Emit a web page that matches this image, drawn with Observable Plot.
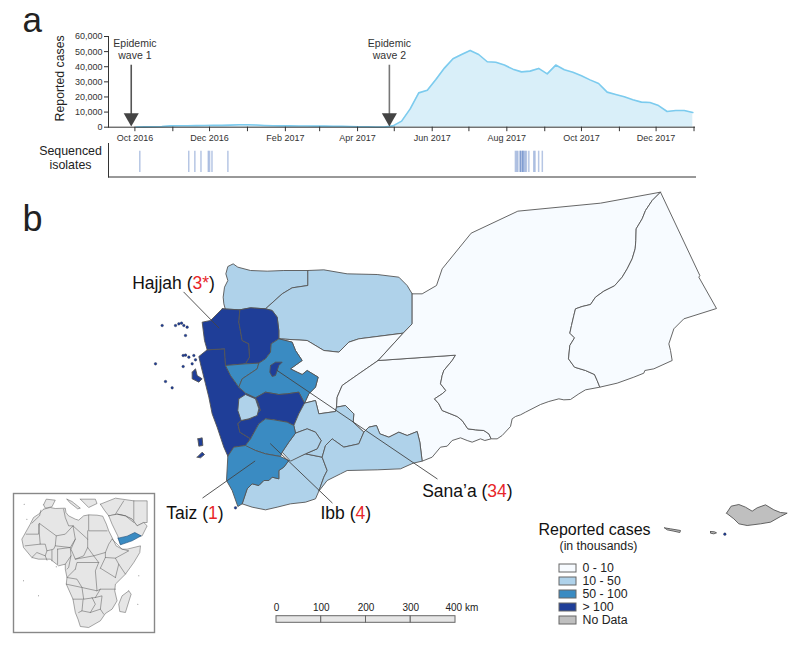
<!DOCTYPE html>
<html><head><meta charset="utf-8">
<script src="https://cdn.jsdelivr.net/npm/d3@7"></script>
<script src="https://cdn.jsdelivr.net/npm/@observablehq/plot@0.6"></script>
<style>
html,body{margin:0;padding:0;background:#fff}
#page{position:relative;width:800px;height:645px;overflow:hidden;font-family:"Liberation Sans",Arial,sans-serif}
#page svg{position:absolute;background:transparent;overflow:visible}
</style></head><body><div id="page"></div>
<script>
// ---- panel a: weekly reported cases ----
const wave1Cases=[100,200,300,500,900,1000,1000,1050,1100,1200,1200,1350,1600,1600,1450,1150,950,900,850,800,750,700,700,650,600,450,300,250,150,100];
const wave2Cases=[900,4000,12100,22700,24500,31600,39100,45300,48100,50800,48100,43300,43000,41100,38400,36600,37100,38900,35300,41100,38000,36400,34000,31300,28900,23200,21600,20100,18100,16600,16300,14300,10400,11000,11000,9700];
const firstWeek="2016-10-02", lastWeek="2018-01-01";
const isolateDates=["2016-10-05","2016-11-14","2016-11-19","2016-11-24","2016-11-30","2016-12-01","2016-12-03","2016-12-16",
"2017-08-08","2017-08-09","2017-08-10","2017-08-12","2017-08-12","2017-08-13","2017-08-14","2017-08-14","2017-08-15","2017-08-16","2017-08-17","2017-08-19","2017-08-23","2017-08-24","2017-08-27","2017-08-30"];
const waveDates=["2016-09-28","2017-04-27"];
const waveLabelDates=["2016-10-01","2017-04-27"];
const waveLabels=["Epidemic\nwave 1","Epidemic\nwave 2"];
const yTicks=[0,10000,20000,30000,40000,50000,60000];
// ---- panel b: traced map geometry (map units) ----
const catNames=["0 - 10","10 - 50","50 - 100","> 100","No Data"];
const catColors=["#f7fbff","#afd2ea","#3a8bc2","#1f3e98","#bfbfbf"];
const shabHad=[[915,314],[905,330],[880,360],[875,375],[870,400],[886,420],[875,430],[852,445],[865,460],[875,480],[920,498],[935,510],[952,535],[975,538],[1000,540],[1015,550],[1022,565]];
const hadMah=[[1530,-175],[1505,-150],[1485,-120],[1475,-95],[1457,-65],[1456,-30],[1454,-5],[1445,25],[1430,55],[1415,80],[1392,106],[1360,122],[1335,140],[1320,162],[1295,168],[1275,175],[1270,195],[1263,225],[1258,248],[1272,262],[1258,285],[1254,325],[1272,350],[1305,360],[1332,372],[1340,390],[1348,410]];
const abyanTop=[[640,545],[655,530],[678,525],[688,550],[715,560],[745,545],[770,555],[800,543],[808,575],[815,632]];
const saadah=[[225,178],[220,160],[218,140],[222,110],[232,90],[226,70],[232,48],[248,40],[262,50],[300,60],[350,62],[400,60],[472,60],[472,105],[425,112],[395,130],[345,175],[300,172],[268,178],[215,175]];
const jawf=[[472,60],[520,58],[590,70],[680,72],[745,80],[770,105],[785,130],[785,220],[758,248],[625,265],[595,275],[565,305],[520,300],[470,270],[385,265],[385,240],[380,200],[365,180],[345,175],[395,130],[425,112],[472,105]];
const marib=[[385,265],[470,270],[520,300],[565,305],[595,275],[625,265],[758,248],[683,330],[625,370],[575,405],[560,440],[558,470],[555,483],[505,490],[495,450],[462,458],[475,430],[495,410],[503,380],[470,360],[455,372],[440,365],[420,355],[455,330],[435,300],[425,275]];
const shabwah=[[683,330],...shabHad,[1003,570],[990,565],[965,575],[950,570],[930,562],[905,570],[890,587],[870,590],[845,620],[815,632],...[...abyanTop].reverse(),[608,515],[610,490],[585,465],[558,470],[560,440],[575,405],[625,370]];
const hadramawt=[[785,130],[815,130],[858,105],[875,55],[962,-52],[1102,-118],[1350,-142],...hadMah,[1305,418],[1285,430],[1260,447],[1240,448],[1225,445],[1195,453],[1170,462],[1125,485],[1110,493],[1095,498],[1085,505],[1080,528],[1055,555],[1040,565],...[...shabHad].reverse(),[683,330],[758,248],[785,220]];
const mahra=[...hadMah,[1400,398],[1450,380],[1480,368],[1483,360],[1510,355],[1565,330],[1560,300],[1555,280],[1570,235],[1600,205],[1698,174],[1645,80],[1648,75]];
const hajjah=[[215,175],[268,178],[265,215],[275,270],[295,280],[297,320],[285,340],[225,345],[222,295],[170,298],[162,270],[155,215],[180,210]];
const amran=[[268,178],[300,172],[345,175],[365,180],[380,200],[385,240],[385,265],[362,280],[360,305],[345,325],[325,338],[285,340],[297,320],[295,280],[275,270],[265,215]];
const hudaydah=[[170,298],[222,295],[225,345],[240,375],[265,410],[285,428],[315,442],[322,455],[330,480],[300,505],[272,510],[262,520],[268,545],[300,565],[285,585],[250,590],[232,617],[220,590],[200,530],[185,490],[175,440],[165,400],[150,340],[145,318]];
const mahwit=[[225,345],[285,340],[325,338],[320,355],[275,385],[265,410],[240,375]];
const sanaa=[[362,280],[385,265],[425,275],[435,300],[455,330],[420,355],[440,365],[455,372],[470,360],[503,380],[495,410],[475,430],[462,458],[445,425],[410,430],[385,432],[345,425],[315,442],[285,428],[265,410],[275,385],[320,355],[325,338],[345,325],[360,305]];
const sanaaCity=[[360,345],[375,335],[395,335],[385,345],[375,375],[365,378],[358,365]];
const dhamar=[[315,442],[345,425],[385,432],[410,430],[445,425],[462,458],[445,490],[430,525],[410,515],[370,508],[345,505],[325,520],[300,565],[268,545],[262,520],[272,510],[300,505],[330,480],[322,455]];
const raymah=[[265,445],[285,432],[315,445],[325,475],[320,495],[295,505],[272,510],[262,480]];
const ibb=[[300,565],[325,520],[345,505],[370,508],[410,515],[430,525],[435,548],[415,575],[395,605],[390,618],[345,610],[315,600],[290,590],[285,585]];
const taiz=[[232,617],[250,590],[285,585],[315,600],[345,610],[390,618],[415,630],[400,650],[385,660],[385,685],[365,680],[355,690],[340,690],[325,705],[305,700],[290,715],[275,760],[262,768],[245,720],[228,690]];
const lahj=[[275,760],[290,715],[305,700],[325,705],[340,690],[355,690],[365,680],[385,685],[385,660],[400,650],[415,630],[465,610],[515,620],[530,660],[520,680],[505,722],[495,745],[465,755],[420,760],[380,770],[345,778],[305,770]];
const dhale=[[435,548],[470,535],[495,545],[512,570],[500,595],[465,610],[420,632],[395,605],[415,575]];
const bayda=[[462,458],[495,450],[505,490],[555,483],[558,470],[585,465],[610,490],[608,515],[640,545],[625,580],[580,590],[545,565],[525,585],[515,620],[465,610],[500,595],[512,570],[495,545],[470,535],[435,548],[430,525],[445,490]];
const abyan=[...abyanTop,[788,638],[750,655],[680,658],[590,660],[570,670],[530,690],[505,722],[520,680],[530,660],[515,620],[525,585],[545,565],[580,590],[625,580]];
const kamaran=[[125,365],[135,355],[140,375],[155,385],[145,395],[125,385]];
const zuqar=[[142,565],[155,562],[157,585],[145,587]];
const hanish=[[140,620],[155,605],[162,612],[150,622]];
const socotra=[[1728,788],[1742,767],[1765,762],[1785,770],[1805,782],[1820,772],[1845,763],[1870,778],[1890,786],[1910,788],[1890,798],[1860,815],[1830,820],[1790,825],[1765,820],[1750,805]];
const abdKuri=[[1542,832],[1560,835],[1590,840],[1588,846],[1570,842],[1550,838]];
const samha=[[1680,843],[1692,844],[1698,847],[1690,850],[1680,848]];
const islets=[[75,225],[85,220],[93,218],[100,225],[110,230],[35,225],[105,255],[98,315],[105,314],[115,320],[130,315],[135,328],[15,340],[125,340],[98,348],[45,393],[65,412],[255,772],[1723,851]];
const regionTable=[
["saadah",1,saadah],["jawf",1,jawf],["marib",0,marib],["shabwah",0,shabwah],["hadramawt",0,hadramawt],["mahra",0,mahra],
["hudaydah",3,hudaydah],["hajjah",3,hajjah],["amran",3,amran],["mahwit",2,mahwit],["sanaa",2,sanaa],["sanaaCity",3,sanaaCity],["dhamar",3,dhamar],["raymah",1,raymah],
["lahj",1,lahj],["bayda",1,bayda],["dhale",1,dhale],["abyan",1,abyan],["ibb",2,ibb],["taiz",2,taiz],
["kamaran",3,kamaran],["zuqar",3,zuqar],["hanish",3,hanish],["socotra",4,socotra],["abdKuri",4,abdKuri],["samha",4,samha]];
const leaders=[[[100,125],[205,232]],[[380,360],[860,685]],[[157,742],[313,632]],[[360,580],[545,757]]];
const placeNames=["Hajjah","Sana’a","Taiz","Ibb"];
const placeCounts=["3*","34","1","4"];
const placeAt=[[-55,98],[815,722],[47,789],[510,789]];
// ---- inset: Africa (inset units) ----
const africa=[[130,85],[150,80],[165,83],[195,82],[197,95],[205,105],[225,115],[235,118],[250,105],[265,102],[290,103],[307,106],[318,130],[325,150],[340,180],[347,195],[365,205],[380,205],[420,195],[418,215],[400,245],[375,280],[345,310],[343,330],[350,360],[335,385],[315,398],[300,420],[265,440],[240,437],[233,415],[225,395],[218,355],[198,310],[200,290],[195,265],[195,250],[175,255],[150,235],[115,235],[95,230],[70,200],[65,175],[90,130],[100,110],[115,100]];
const madagascar=[[385,330],[392,340],[375,395],[358,392],[355,370],[365,345]];
const arabia=[[325,105],[350,100],[375,105],[395,115],[410,135],[430,125],[440,135],[425,165],[400,170],[360,190],[352,165],[335,130]];
const levant=[[300,70],[345,52],[400,60],[440,60],[440,125],[430,125],[410,135],[395,115],[375,105],[350,100],[325,105],[312,88]];
const spain=[[130,72],[138,55],[165,58],[155,78],[135,82]];
const italy=[[200,55],[215,62],[240,82],[232,84],[208,65]];
const balkan=[[240,55],[285,55],[290,68],[265,80],[255,70]];
const yemenInset=[[353,172],[360,192],[395,180],[422,165],[403,155],[380,166]];
const borders=[
[[122,88],[118,105],[95,127]],[[78,160],[115,160],[118,128]],[[115,130],[120,190],[75,195]],[[118,128],[168,165],[195,160],[218,135]],
[[190,85],[195,110],[205,135],[218,135]],[[168,165],[165,195],[210,200],[225,175],[218,135],[262,175],[262,200],[250,225],[225,235],[212,205],[225,175]],
[[265,103],[265,150],[320,150]],[[262,150],[262,175]],[[262,200],[280,225],[315,215],[325,190],[335,175]],
[[120,190],[135,190],[140,210],[160,205],[165,195]],[[95,230],[110,215],[135,225],[140,210]],[[135,225],[140,238]],[[155,240],[155,208]],[[172,250],[172,205]],
[[172,205],[210,200],[212,225],[195,250]],[[212,225],[205,260],[200,265]],[[225,235],[280,225],[295,245],[230,245],[225,265]],
[[225,265],[205,285],[200,290],[230,295],[245,320],[290,330],[285,270],[295,245]],[[198,310],[245,320],[250,355],[218,355]],[[250,355],[285,350],[300,325],[290,330]],
[[248,358],[245,390],[235,395]],[[275,350],[285,370],[270,395],[245,390]],[[285,350],[305,345],[300,385],[310,400]],[[270,395],[300,385]],
[[300,262],[345,290]],[[300,325],[345,325]],[[300,262],[315,230],[345,232],[355,250],[345,290]],[[315,215],[315,230]],[[345,232],[385,210],[365,205],[335,175]],[[355,250],[375,280]],
[[345,100],[370,60]],[[400,60],[400,118]],[[352,100],[375,105],[400,125]]];
const insetIslands=[[72,70],[80,115],[168,258],[115,345],[70,300],[415,285],[412,370]];
// ---- scale bar and legend ----
const barStarts=[0,100,200,300];
const barLabels=["0","100","200","300"];
const cols=d=>d;

const page=document.getElementById("page");
function place(svg,left,topPx){svg.style.left=left+"px";svg.style.top=topPx+"px";page.appendChild(svg);return svg;}
const font="Liberation Sans, Arial, sans-serif";

// map, whole page
const verts=regionTable.flatMap(([n,c,pts])=>[...pts,pts[0]].map(p=>({n,cat:catNames[c],x:p[0],y:p[1]})));
const labels=placeNames.map((n,i)=>({t:`${n} (${placeCounts[i]})`,x:placeAt[i][0],y:placeAt[i][1]}));
const leaderRows=leaders.flatMap((l,i)=>l.map(p=>({i,x:p[0],y:p[1]})));
const panelTexts=[
 {t:"a",x:-384,y:-690,s:35},
 {t:"b",x:-384,y:-92,s:36}];
const mapPlot=Plot.plot({width:800,height:645,margin:0,
 x:{domain:[-450,1950],axis:null},y:{domain:[1185,-750],axis:null},
 color:{domain:catNames,range:catColors},
 style:{fontFamily:font,background:"transparent"},
 marks:[
  Plot.line(verts,{x:"x",y:"y",z:"n",fill:"cat",stroke:"#555",strokeWidth:0.9}),
  Plot.dot(islets,{x:d=>d[0],y:d=>d[1],r:1.3,fill:"#1f3e98",stroke:"#222",strokeWidth:0.3}),
  Plot.line(leaderRows,{x:"x",y:"y",z:"i",stroke:"#444",strokeWidth:0.9}),
  Plot.text(labels,{x:"x",y:"y",text:"t",textAnchor:"start",fontSize:17.5,fill:"#111"}),
  Plot.text(panelTexts,{x:"x",y:"y",text:"t",fontSize:"s",textAnchor:"start",fill:"#222"}),
  Plot.text(["Reported cases"],{x:1164,y:837,text:cols,textAnchor:"start",fontSize:16,fill:"#111"}),
  Plot.text(["(in thousands)"],{x:1344,y:887,text:cols,fontSize:12.3,fill:"#222"})
 ]});
place(mapPlot,0,0);
// colour the counts red, keeping one text element per label
d3.select(mapPlot).selectAll("text").each(function(){
 const s=this.textContent,m=s.match(/^(.*\()(.*)(\))$/);
 if(!m||s.startsWith("(in"))return;
 const el=d3.select(this);el.text(null);
 el.append("tspan").text(m[1]);el.append("tspan").attr("fill","#e8262a").text(m[2]);el.append("tspan").text(m[3]);
});

// time series
const weeks=d3.utcWeek.range(new Date(firstWeek),new Date(lastWeek));
const allCases=[...wave1Cases,...wave2Cases];
const cases=weeks.map((date,i)=>({date,n:allCases[i]}));
const xDomain=[new Date("2016-09-09T10:00Z"),new Date("2018-01-02T05:00Z")];
const months=d3.utcMonth.range(new Date("2016-10-01"),new Date("2018-01-02"));
const monthFmt=d3.utcFormat("%b %Y");
const waves=waveDates.map(d=>({date:new Date(d)}));
const waveText=waveLabelDates.map((d,i)=>({date:new Date(d),t:waveLabels[i]}));
const timePlot=Plot.plot({width:800,height:150,marginLeft:108,marginRight:105,marginTop:36,marginBottom:23.3,
 x:{type:"utc",domain:xDomain},y:{domain:[0,60000]},
 style:{fontFamily:font,background:"transparent",color:"#333"},
 marks:[
  Plot.areaY(cases,{x:"date",y:"n",fill:"#d9eff9"}),
  Plot.lineY(cases,{x:"date",y:"n",stroke:"#7ccbee",strokeWidth:1.6}),
  Plot.axisY({ticks:yTicks,tickFormat:d3.format(","),tickSize:4,tickPadding:2,fontSize:9,label:null}),
  Plot.axisX({ticks:months,tickFormat:d=>d.getUTCMonth()%2?monthFmt(d):"",tickSize:4.5,tickPadding:3,fontSize:9,label:null}),
  Plot.ruleY([0],{stroke:"#333",strokeWidth:1}),
  Plot.frame({anchor:"left",stroke:"#333"}),
  Plot.ruleX(waves,{x:"date",y1:6000,y2:41000,stroke:(d,i)=>i?"#777":"#555",strokeWidth:1.6}),
  Plot.dot(waves,{x:"date",y:()=>6300,symbol:"triangle",rotate:180,r:5.6,fill:"#444"}),
  Plot.text(waveText,{x:"date",y:()=>51800,text:"t",fontSize:10.5,lineHeight:1.2,fill:"#333"}),
  Plot.text(["Reported cases"],{frameAnchor:"left",textAnchor:"middle",dx:-48,dy:-3.5,rotate:-90,text:cols,fontSize:12.3,fill:"#222"})
 ]});
place(timePlot,0,0);

// sequenced isolates
const seqPlot=Plot.plot({width:800,height:36,marginLeft:108,marginRight:105,marginTop:2,marginBottom:0.5,
 x:{type:"utc",domain:xDomain,axis:null},
 style:{fontFamily:font,background:"transparent"},
 marks:[
  Plot.tickX(isolateDates.map(d=>new Date(d)),{x:d=>d,stroke:"#3f6ab8",strokeOpacity:0.38,strokeWidth:1.5,insetTop:7.7,insetBottom:4.5}),
  Plot.frame({anchor:"bottom",stroke:"#333"}),Plot.frame({anchor:"left",stroke:"#333"}),
  Plot.text(["Sequenced\nisolates"],{frameAnchor:"left",dx:-38,dy:-3,text:cols,textAnchor:"middle",fontSize:12.4,lineHeight:1.2,fill:"#222"})
 ]});
place(seqPlot,0,141);

// inset
const inAll=[{n:"africa",p:africa},{n:"mad",p:madagascar},{n:"levant",p:levant},{n:"arabia",p:arabia},{n:"spain",p:spain},{n:"italy",p:italy},{n:"balkan",p:balkan},{n:"yemen",p:yemenInset}];
const inVerts=inAll.flatMap(o=>[...o.p,o.p[0]].map(p=>({n:o.n,x:p[0],y:p[1]})));
const borderRows=borders.flatMap((b,i)=>b.map(p=>({i,x:p[0],y:p[1]})));
const insetPlot=Plot.plot({width:141,height:139,margin:0,x:{domain:[40,462],axis:null},y:{domain:[455,38],axis:null},
 style:{background:"#fff"},
 marks:[
  Plot.line(inVerts.filter(d=>d.n!=="yemen"),{x:"x",y:"y",z:"n",fill:"#e6e6e6",stroke:"#555",strokeWidth:0.5,clip:"frame"}),
  Plot.line(borderRows,{x:"x",y:"y",z:"i",stroke:"#555",strokeWidth:0.5,clip:"frame"}),
  Plot.line(inVerts.filter(d=>d.n==="yemen"),{x:"x",y:"y",fill:"#3a8bc2",stroke:"#1f4e79",strokeWidth:0.6}),
  Plot.dot(insetIslands,{x:d=>d[0],y:d=>d[1],r:0.5,fill:"#777"}),
  Plot.frame({stroke:"#888",strokeWidth:1.4})
 ]});
place(insetPlot,13,493);

// scale bar
const barPlot=Plot.plot({width:230,height:30,marginLeft:10,marginRight:41,marginTop:15.7,marginBottom:7.7,
 x:{domain:[0,400],axis:null},
 style:{fontFamily:font,background:"transparent"},
 marks:[
  Plot.rect(barStarts,{x1:d=>d,x2:d=>d+100,fill:"#e6e6e6",stroke:"#666",strokeWidth:1}),
  Plot.text(barStarts,{x:d=>d,text:(d,i)=>barLabels[i],frameAnchor:"top",lineAnchor:"middle",dy:-8,fontSize:10,fill:"#222"}),
  Plot.text([400],{x:d=>d,text:d=>d+" km",frameAnchor:"top",lineAnchor:"middle",dy:-8,dx:-10,textAnchor:"start",fontSize:10,fill:"#222"})
 ]});
place(barPlot,265.7,600);

// legend
const legendPlot=Plot.plot({width:100,height:75,marginLeft:0,marginRight:83,marginTop:0,marginBottom:0,
 y:{domain:catNames,padding:0.4,align:0.5,axis:null},
 color:{domain:catNames,range:catColors},
 style:{fontFamily:font,background:"transparent"},
 marks:[
  Plot.cell(catNames,{y:d=>d,fill:d=>d,stroke:"#666",strokeWidth:1}),
  Plot.text(catNames,{y:d=>d,text:cols,frameAnchor:"right",dx:6,textAnchor:"start",fontSize:12.3,fill:"#222"})
 ]});
place(legendPlot,559.3,555.7);
</script></body></html>
